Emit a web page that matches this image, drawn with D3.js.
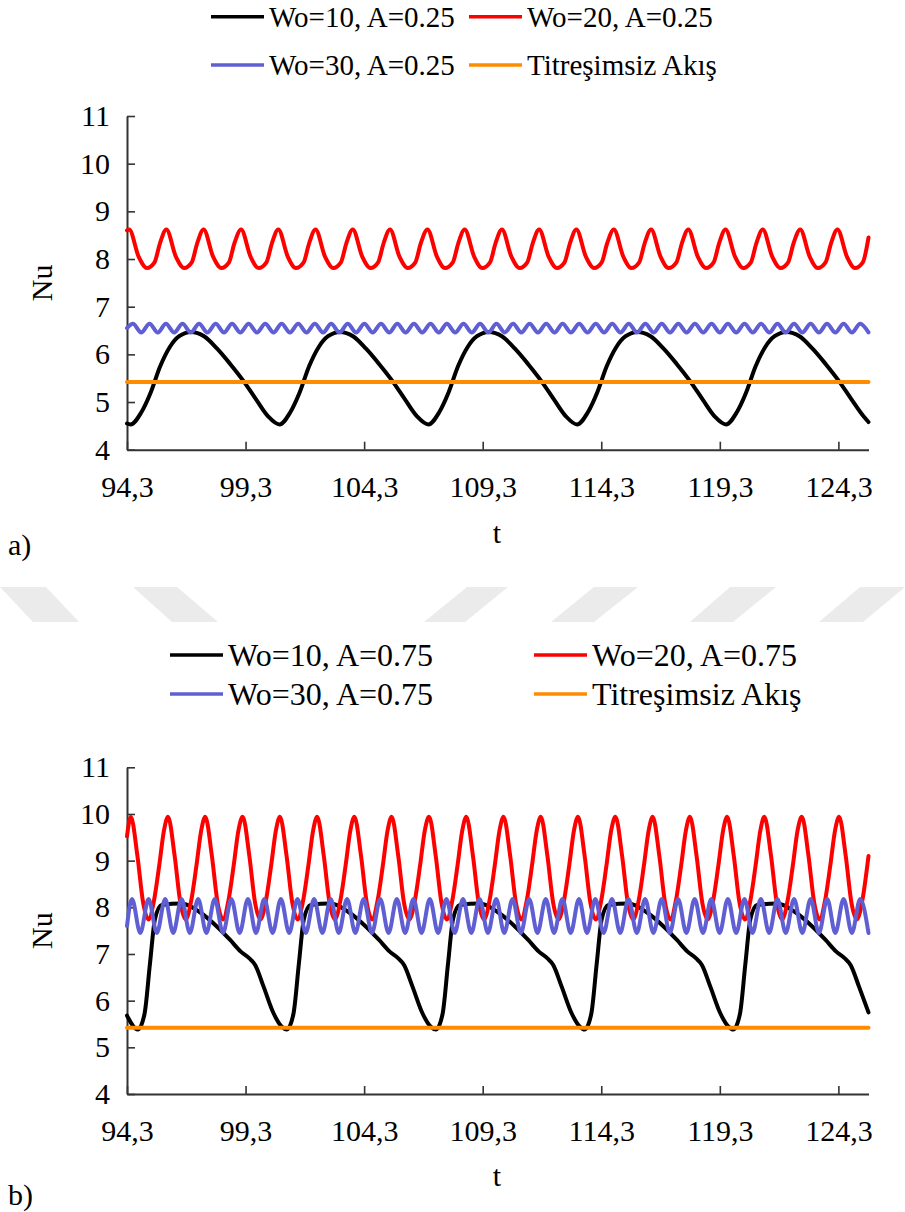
<!DOCTYPE html>
<html>
<head>
<meta charset="utf-8">
<script src="https://cdn.jsdelivr.net/npm/d3@7"></script>
<style>
  body { margin: 0; background: #fff; }
  svg { display: block; }
</style>
</head>
<body>
<script>
// Axis ticks
var xTicks = [94.3, 99.3, 104.3, 109.3, 114.3, 119.3, 124.3];
var yTicks = [4, 5, 6, 7, 8, 9, 10, 11];

// Legend labels
var labelsA = ["Wo=10, A=0.25", "Wo=20, A=0.25", "Wo=30, A=0.25", "Titreşimsiz Akış"];
var labelsB = ["Wo=10, A=0.75", "Wo=20, A=0.75", "Wo=30, A=0.75", "Titreşimsiz Akış"];
var colors = ["#000000", "#ff0000", "#5f5fd3", "#ff8c00"];

// a) A=0.25  -- [t, Nu]
var black25 = [
  [94.30,4.55],
  [94.45,4.53],[94.90,4.78],[95.30,5.20],[95.70,5.75],[96.10,6.15],[96.50,6.38],[97.00,6.47],
  [97.55,6.38],[98.10,6.12],[98.65,5.80],[99.20,5.45],[99.75,5.05],[100.25,4.70],
  [100.73,4.53],[101.18,4.78],[101.58,5.20],[101.98,5.75],[102.38,6.15],[102.78,6.38],[103.28,6.47],
  [103.83,6.38],[104.38,6.12],[104.93,5.80],[105.48,5.45],[106.03,5.05],[106.53,4.70],
  [107.01,4.53],[107.46,4.78],[107.86,5.20],[108.26,5.75],[108.66,6.15],[109.06,6.38],[109.56,6.47],
  [110.11,6.38],[110.66,6.12],[111.21,5.80],[111.76,5.45],[112.31,5.05],[112.81,4.70],
  [113.28,4.53],[113.73,4.78],[114.13,5.20],[114.53,5.75],[114.93,6.15],[115.33,6.38],[115.83,6.47],
  [116.38,6.38],[116.93,6.12],[117.48,5.80],[118.03,5.45],[118.58,5.05],[119.08,4.70],
  [119.56,4.53],[120.01,4.78],[120.41,5.20],[120.81,5.75],[121.21,6.15],[121.61,6.38],[122.11,6.47],
  [122.66,6.38],[123.21,6.12],[123.76,5.80],[124.31,5.45],[124.86,5.05],[125.36,4.70],
  [125.57,4.58]
];
var red25 = [
  [94.30,8.60],
  [94.39,8.62],[94.79,8.05],[95.14,7.81],[95.46,7.93],[95.69,8.33],
  [95.96,8.62],[96.36,8.05],[96.71,7.81],[97.03,7.93],[97.26,8.33],
  [97.53,8.62],[97.93,8.05],[98.28,7.81],[98.60,7.93],[98.83,8.33],
  [99.11,8.62],[99.51,8.05],[99.85,7.81],[100.18,7.93],[100.41,8.33],
  [100.68,8.62],[101.08,8.05],[101.42,7.81],[101.75,7.93],[101.98,8.33],
  [102.25,8.62],[102.65,8.05],[103.00,7.81],[103.32,7.93],[103.55,8.33],
  [103.82,8.62],[104.22,8.05],[104.57,7.81],[104.89,7.93],[105.12,8.33],
  [105.39,8.62],[105.79,8.05],[106.14,7.81],[106.46,7.93],[106.69,8.33],
  [106.97,8.62],[107.37,8.05],[107.71,7.81],[108.04,7.93],[108.27,8.33],
  [108.54,8.62],[108.94,8.05],[109.28,7.81],[109.61,7.93],[109.84,8.33],
  [110.11,8.62],[110.51,8.05],[110.86,7.81],[111.18,7.93],[111.41,8.33],
  [111.68,8.62],[112.08,8.05],[112.43,7.81],[112.75,7.93],[112.98,8.33],
  [113.25,8.62],[113.65,8.05],[114.00,7.81],[114.32,7.93],[114.55,8.33],
  [114.83,8.62],[115.23,8.05],[115.57,7.81],[115.90,7.93],[116.13,8.33],
  [116.40,8.62],[116.80,8.05],[117.14,7.81],[117.47,7.93],[117.70,8.33],
  [117.97,8.62],[118.37,8.05],[118.72,7.81],[119.04,7.93],[119.27,8.33],
  [119.54,8.62],[119.94,8.05],[120.29,7.81],[120.61,7.93],[120.84,8.33],
  [121.11,8.62],[121.51,8.05],[121.86,7.81],[122.18,7.93],[122.41,8.33],
  [122.69,8.62],[123.09,8.05],[123.43,7.81],[123.76,7.93],[123.99,8.33],
  [124.26,8.62],[124.66,8.05],[125.00,7.81],[125.33,7.93],[125.57,8.45]
];
var blue25 = [
  [94.30,6.55],[94.55,6.64],[94.90,6.46],[95.25,6.64],[95.60,6.46],[95.94,6.64],[96.29,6.46],[96.64,6.64],[96.99,6.46],
  [97.34,6.64],[97.69,6.46],[98.04,6.64],[98.39,6.46],[98.73,6.64],[99.08,6.46],[99.43,6.64],[99.78,6.46],
  [100.13,6.64],[100.48,6.46],[100.82,6.64],[101.17,6.46],[101.52,6.64],[101.87,6.46],[102.22,6.64],[102.57,6.46],
  [102.91,6.64],[103.26,6.46],[103.61,6.64],[103.96,6.46],[104.31,6.64],[104.66,6.46],[105.01,6.64],[105.36,6.46],
  [105.70,6.64],[106.05,6.46],[106.40,6.64],[106.75,6.46],[107.10,6.64],[107.45,6.46],[107.79,6.64],[108.14,6.46],
  [108.49,6.64],[108.84,6.46],[109.19,6.64],[109.54,6.46],[109.88,6.64],[110.23,6.46],[110.58,6.64],[110.93,6.46],
  [111.28,6.64],[111.63,6.46],[111.98,6.64],[112.33,6.46],[112.67,6.64],[113.02,6.46],[113.37,6.64],[113.72,6.46],
  [114.07,6.64],[114.42,6.46],[114.76,6.64],[115.11,6.46],[115.46,6.64],[115.81,6.46],[116.16,6.64],[116.51,6.46],
  [116.85,6.64],[117.20,6.46],[117.55,6.64],[117.90,6.46],[118.25,6.64],[118.60,6.46],[118.95,6.64],[119.30,6.46],
  [119.64,6.64],[119.99,6.46],[120.34,6.64],[120.69,6.46],[121.04,6.64],[121.39,6.46],[121.73,6.64],[122.08,6.46],
  [122.43,6.64],[122.78,6.46],[123.13,6.64],[123.48,6.46],[123.82,6.64],[124.17,6.46],[124.52,6.64],[124.87,6.46],
  [125.22,6.64],[125.57,6.46]
];
var steady25 = [[94.30,5.42],[125.57,5.42]];

// b) A=0.75
var black75 = [
  [94.30,5.68],
  [94.76,5.38],[95.04,5.72],[95.27,6.80],[95.48,7.75],[95.76,8.05],[96.61,8.08],[97.36,7.90],[98.09,7.59],
  [98.65,7.30],[99.10,7.05],[99.45,6.91],[99.71,6.76],[100.06,6.30],[100.48,5.73],[100.83,5.44],
  [101.04,5.38],[101.32,5.72],[101.55,6.80],[101.76,7.75],[102.04,8.05],[102.89,8.08],[103.64,7.90],[104.37,7.59],
  [104.93,7.30],[105.38,7.05],[105.73,6.91],[105.99,6.76],[106.34,6.30],[106.76,5.73],[107.11,5.44],
  [107.33,5.38],[107.61,5.72],[107.84,6.80],[108.05,7.75],[108.33,8.05],[109.18,8.08],[109.93,7.90],[110.66,7.59],
  [111.22,7.30],[111.67,7.05],[112.02,6.91],[112.28,6.76],[112.63,6.30],[113.05,5.73],[113.40,5.44],
  [113.60,5.38],[113.88,5.72],[114.11,6.80],[114.32,7.75],[114.60,8.05],[115.45,8.08],[116.20,7.90],[116.93,7.59],
  [117.49,7.30],[117.94,7.05],[118.29,6.91],[118.55,6.76],[118.90,6.30],[119.32,5.73],[119.67,5.44],
  [119.87,5.38],[120.15,5.72],[120.38,6.80],[120.59,7.75],[120.87,8.05],[121.72,8.08],[122.47,7.90],[123.20,7.59],
  [123.76,7.30],[124.21,7.05],[124.56,6.91],[124.82,6.76],[125.17,6.30],[125.57,5.75]
];
var red75 = [
  [94.30,9.52],
  [94.46,9.94],[94.74,9.10],[94.98,8.10],[95.21,7.74],[95.44,8.15],[95.66,8.90],[95.86,9.65],
  [96.03,9.94],[96.31,9.10],[96.55,8.10],[96.78,7.74],[97.01,8.15],[97.23,8.90],[97.43,9.65],
  [97.60,9.94],[97.88,9.10],[98.12,8.10],[98.35,7.74],[98.58,8.15],[98.80,8.90],[99.00,9.65],
  [99.18,9.94],[99.46,9.10],[99.70,8.10],[99.93,7.74],[100.16,8.15],[100.38,8.90],[100.58,9.65],
  [100.75,9.94],[101.03,9.10],[101.27,8.10],[101.50,7.74],[101.73,8.15],[101.95,8.90],[102.15,9.65],
  [102.32,9.94],[102.60,9.10],[102.84,8.10],[103.07,7.74],[103.30,8.15],[103.52,8.90],[103.72,9.65],
  [103.89,9.94],[104.17,9.10],[104.41,8.10],[104.64,7.74],[104.87,8.15],[105.09,8.90],[105.29,9.65],
  [105.46,9.94],[105.74,9.10],[105.98,8.10],[106.21,7.74],[106.44,8.15],[106.66,8.90],[106.86,9.65],
  [107.04,9.94],[107.32,9.10],[107.56,8.10],[107.79,7.74],[108.02,8.15],[108.24,8.90],[108.44,9.65],
  [108.61,9.94],[108.89,9.10],[109.13,8.10],[109.36,7.74],[109.59,8.15],[109.81,8.90],[110.01,9.65],
  [110.18,9.94],[110.46,9.10],[110.70,8.10],[110.93,7.74],[111.16,8.15],[111.38,8.90],[111.58,9.65],
  [111.75,9.94],[112.03,9.10],[112.27,8.10],[112.50,7.74],[112.73,8.15],[112.95,8.90],[113.15,9.65],
  [113.32,9.94],[113.60,9.10],[113.84,8.10],[114.07,7.74],[114.30,8.15],[114.52,8.90],[114.72,9.65],
  [114.90,9.94],[115.18,9.10],[115.42,8.10],[115.65,7.74],[115.88,8.15],[116.10,8.90],[116.30,9.65],
  [116.47,9.94],[116.75,9.10],[116.99,8.10],[117.22,7.74],[117.45,8.15],[117.67,8.90],[117.87,9.65],
  [118.04,9.94],[118.32,9.10],[118.56,8.10],[118.79,7.74],[119.02,8.15],[119.24,8.90],[119.44,9.65],
  [119.61,9.94],[119.89,9.10],[120.13,8.10],[120.36,7.74],[120.59,8.15],[120.81,8.90],[121.01,9.65],
  [121.18,9.94],[121.46,9.10],[121.70,8.10],[121.93,7.74],[122.16,8.15],[122.38,8.90],[122.58,9.65],
  [122.76,9.94],[123.04,9.10],[123.28,8.10],[123.51,7.74],[123.74,8.15],[123.96,8.90],[124.16,9.65],
  [124.33,9.94],[124.61,9.10],[124.85,8.10],[125.08,7.74],[125.31,8.15],[125.57,9.10]
];
var blue75 = [
  [94.30,7.60],[94.51,8.18],[94.86,7.45],[95.21,8.18],[95.56,7.45],[95.91,8.18],[96.25,7.45],[96.60,8.18],[96.95,7.45],
  [97.30,8.18],[97.65,7.45],[98.00,8.18],[98.35,7.45],[98.70,8.18],[99.05,7.45],[99.40,8.18],[99.74,7.45],
  [100.09,8.18],[100.44,7.45],[100.79,8.18],[101.14,7.45],[101.49,8.18],[101.84,7.45],[102.19,8.18],[102.54,7.45],
  [102.89,8.18],[103.23,7.45],[103.58,8.18],[103.93,7.45],[104.28,8.18],[104.63,7.45],[104.98,8.18],[105.33,7.45],
  [105.68,8.18],[106.03,7.45],[106.38,8.18],[106.72,7.45],[107.07,8.18],[107.42,7.45],[107.77,8.18],[108.12,7.45],
  [108.47,8.18],[108.82,7.45],[109.17,8.18],[109.52,7.45],[109.87,8.18],[110.21,7.45],[110.56,8.18],[110.91,7.45],
  [111.26,8.18],[111.61,7.45],[111.96,8.18],[112.31,7.45],[112.66,8.18],[113.01,7.45],[113.36,8.18],[113.70,7.45],
  [114.05,8.18],[114.40,7.45],[114.75,8.18],[115.10,7.45],[115.45,8.18],[115.80,7.45],[116.15,8.18],[116.50,7.45],
  [116.85,8.18],[117.19,7.45],[117.54,8.18],[117.89,7.45],[118.24,8.18],[118.59,7.45],[118.94,8.18],[119.29,7.45],
  [119.64,8.18],[119.99,7.45],[120.34,8.18],[120.68,7.45],[121.03,8.18],[121.38,7.45],[121.73,8.18],[122.08,7.45],
  [122.43,8.18],[122.78,7.45],[123.13,8.18],[123.48,7.45],[123.83,8.18],[124.17,7.45],[124.52,8.18],[124.87,7.45],
  [125.22,8.18],[125.57,7.45]
];
var steady75 = [[94.30,5.42],[125.57,5.42]];

// page
var width  = 905,
    height = 1212,
    font   = "'Liberation Serif', 'Times New Roman', serif";

var svg = d3.select("body").append("svg")
    .attr("width", width)
    .attr("height", height);

// faded watermark chevrons between the two panels
var chevrons = [
  [[0,587],[46,587],[79,622],[33,622]],
  [[133,587],[177,587],[218,622],[172,622]],
  [[467,587],[508,587],[465,622],[424,622]],
  [[594,587],[638,587],[594,622],[551,622]],
  [[730,587],[776,587],[733,622],[690,622]],
  [[860,587],[905,587],[863,622],[819,622]]
];
svg.append("g").selectAll("polygon")
    .data(chevrons)
    .enter().append("polygon")
    .attr("points", function(d) { return d.join(" "); })
    .attr("fill", "#ebebeb");

var fmtX = function(d) { return d.toFixed(1).replace(".", ","); };
var fmtY = d3.format("d");

function drawPanel(p) {
    var x = d3.scaleLinear().domain([94.3, 125.57]).range([127, 868.5]);
    var y = d3.scaleLinear().domain([4, 11]).range([p.bottom, p.top]);

    var gx = svg.append("g")
        .attr("transform", "translate(0," + p.bottom + ")")
        .call(d3.axisBottom(x).tickValues(xTicks).tickFormat(fmtX)
            .tickSize(-8).tickSizeOuter(0).tickPadding(26));
    var gy = svg.append("g")
        .attr("transform", "translate(127,0)")
        .call(d3.axisLeft(y).tickValues(yTicks).tickFormat(fmtY)
            .tickSize(-8).tickSizeOuter(0).tickPadding(17));

    [gx, gy].forEach(function(g) {
        g.attr("font-family", font).attr("font-size", 30);
        g.select(".domain").attr("stroke", "#333").attr("stroke-width", 2);
        g.selectAll(".tick line").attr("stroke", "#333").attr("stroke-width", 1.6);
        g.selectAll("text").attr("fill", "#000");
    });

    // series, drawn in legend order (orange last, on top)
    var line = d3.line()
        .x(function(d) { return x(d[0]); })
        .y(function(d) { return y(d[1]); })
        .curve(d3.curveMonotoneX);

    p.series.forEach(function(s, i) {
        svg.append("path")
            .datum(s)
            .attr("d", line)
            .attr("fill", "none")
            .attr("stroke", colors[i])
            .attr("stroke-width", 4)
            .attr("stroke-linejoin", "round")
            .attr("stroke-linecap", "round");
    });

    // axis titles
    svg.append("text")
        .attr("transform", "translate(52," + (p.top + p.bottom) / 2 + ") rotate(-90)")
        .attr("text-anchor", "middle")
        .attr("font-family", font).attr("font-size", 30)
        .text("Nu");
    svg.append("text")
        .attr("x", 497).attr("y", p.tY)
        .attr("text-anchor", "middle")
        .attr("font-family", font).attr("font-size", 30)
        .text("t");
    svg.append("text")
        .attr("x", 8).attr("y", p.tagY)
        .attr("font-family", font).attr("font-size", 30)
        .text(p.tag);

    // legend, 2 x 2
    var leg = svg.append("g");
    p.labels.forEach(function(lab, i) {
        var lx = p.legX[i % 2],
            ly = p.legY[Math.floor(i / 2)];
        leg.append("line")
            .attr("x1", lx).attr("x2", lx + p.legLen)
            .attr("y1", ly).attr("y2", ly)
            .attr("stroke", colors[i])
            .attr("stroke-width", 3.5);
        leg.append("text")
            .attr("x", lx + p.legLen + 5)
            .attr("y", ly + p.legFont * 0.34)
            .attr("font-family", font)
            .attr("font-size", p.legFont)
            .text(lab);
    });
}

drawPanel({
    top: 116, bottom: 449.7,
    series: [black25, red25, blue25, steady25],
    labels: labelsA,
    legX: [211, 469], legY: [16.7, 65], legLen: 53, legFont: 29,
    tY: 543, tagY: 555, tag: "a)"
});

drawPanel({
    top: 767.3, bottom: 1094,
    series: [black75, red75, blue75, steady75],
    labels: labelsB,
    legX: [170, 534], legY: [655, 694], legLen: 53, legFont: 32,
    tY: 1186, tagY: 1205, tag: "b)"
});
</script>
</body>
</html>
